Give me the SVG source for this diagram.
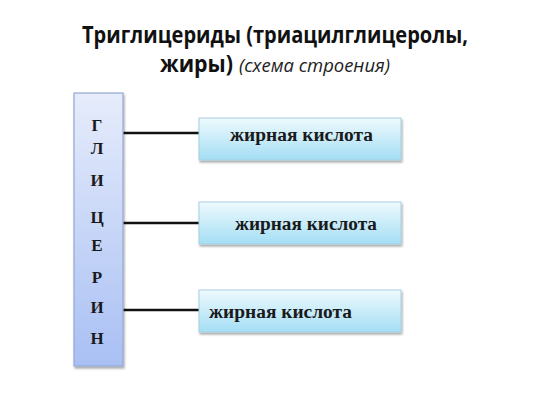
<svg xmlns="http://www.w3.org/2000/svg" width="533" height="400" viewBox="0 0 533 400">
<defs>
<linearGradient id="gGly" x1="0" y1="0" x2="0" y2="1">
<stop offset="0" stop-color="#e6ecfb"/>
<stop offset="1" stop-color="#a9c0f4"/>
</linearGradient>
<linearGradient id="gAcid" x1="0" y1="0" x2="0" y2="1">
<stop offset="0" stop-color="#eefafe"/>
<stop offset="1" stop-color="#a4def4"/>
</linearGradient>
<filter id="sh" x="-10%" y="-10%" width="130%" height="140%">
<feGaussianBlur in="SourceAlpha" stdDeviation="1.2"/>
<feOffset dx="1" dy="2" result="b"/>
<feComponentTransfer><feFuncA type="linear" slope="0.35"/></feComponentTransfer>
<feMerge><feMergeNode/><feMergeNode in="SourceGraphic"/></feMerge>
</filter>
</defs>
<style>
.title{font-family:"Open Sans","Liberation Sans",sans-serif;font-weight:bold;font-size:23px;fill:#111}
.sub{font-family:"Open Sans","Liberation Sans",sans-serif;font-style:italic;font-size:18px;fill:#222}
.gly{fill:url(#gGly);stroke:#95a9d4;stroke-width:1.2}
.acid{fill:url(#gAcid);stroke:#a7cfe0;stroke-width:1}
.let{font-family:"Liberation Serif","DejaVu Serif",serif;font-weight:bold;font-size:17px;fill:#1a1a1a;text-anchor:middle}
.lbl{font-family:"Liberation Serif","DejaVu Serif",serif;font-weight:bold;font-size:18px;fill:#1a1a1a}
.conn{stroke:#111;stroke-width:2.5;fill:none}
</style>
<rect width="533" height="400" fill="#ffffff"/>
<g id="title">
<text class="title" x="275" y="43" text-anchor="middle" textLength="386" lengthAdjust="spacingAndGlyphs">Триглицериды (триацилглицеролы,</text>
<text x="160" y="72"><tspan class="title" textLength="73" lengthAdjust="spacingAndGlyphs">жиры)</tspan><tspan class="sub" dx="6" textLength="151" lengthAdjust="spacingAndGlyphs">(схема строения)</tspan></text>
</g>
<g id="connectors">
<line class="conn" x1="123" y1="133" x2="200" y2="133"/>
<line class="conn" x1="123" y1="223" x2="200" y2="223"/>
<line class="conn" x1="123" y1="310" x2="200" y2="310"/>
</g>
<g id="glycerin">
<rect class="gly" x="74" y="93" width="49" height="273" filter="url(#sh)"/>
<text class="let" x="97" y="131">Г</text>
<text class="let" x="97" y="154">Л</text>
<text class="let" x="97" y="186">И</text>
<text class="let" x="97" y="223">Ц</text>
<text class="let" x="97" y="251">Е</text>
<text class="let" x="97" y="283">Р</text>
<text class="let" x="97" y="313">И</text>
<text class="let" x="97" y="344">Н</text>
</g>
<g id="acid1">
<rect class="acid" x="199" y="118" width="202" height="42" filter="url(#sh)"/>
<text class="lbl" x="230" y="141" textLength="143" lengthAdjust="spacingAndGlyphs">жирная кислота</text>
</g>
<g id="acid2">
<rect class="acid" x="199" y="202" width="202" height="42" filter="url(#sh)"/>
<text class="lbl" x="235" y="230" textLength="142" lengthAdjust="spacingAndGlyphs">жирная кислота</text>
</g>
<g id="acid3">
<rect class="acid" x="199" y="290" width="202" height="42" filter="url(#sh)"/>
<text class="lbl" x="209" y="318" textLength="143" lengthAdjust="spacingAndGlyphs">жирная кислота</text>
</g>
</svg>
